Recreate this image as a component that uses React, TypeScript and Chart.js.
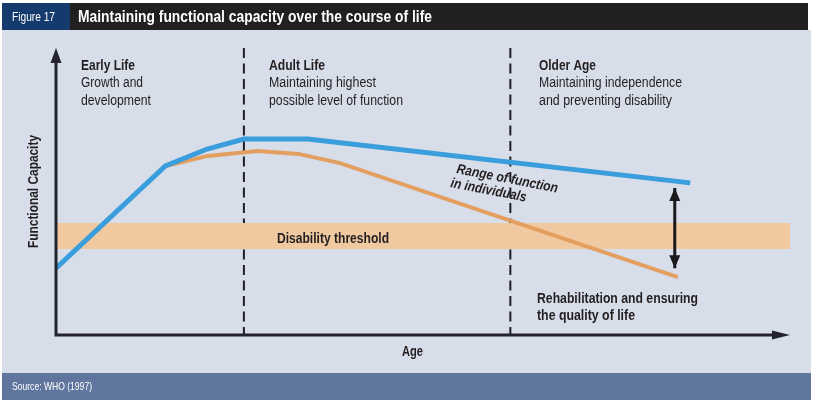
import { useEffect, useRef } from "react";
import { Chart, registerables } from "chart.js";

Chart.register(...registerables);

// ---- data (abstract units: x = age 0..100, y = functional capacity 0..100) ----
const stageBoundaries = [25.6, 61.9];
const stageTitles = ["Early Life", "Adult Life", "Older Age"];
const stageLine1 = ["Growth and", "Maintaining highest", "Maintaining independence"];
const stageLine2 = ["development", "possible level of function", "and preventing disability"];

const upperX = [0, 14.9, 20.6, 25.6, 34.3, 86.4];
const upperY = [23.3, 58.9, 64.8, 68.3, 68.3, 53.0];

const lowerX = [14.9, 20.7, 27.5, 33.0, 38.7, 84.7];
const lowerY = [58.9, 62.4, 64.1, 63.1, 59.9, 20.2];

const thresholdRange = [30, 39];
const arrowX = 84.3;
const arrowY = [51.2, 23.3];

const FONT = '"Liberation Sans", Arial, sans-serif';
const INK = "#231f20";

const pts = (xs: number[], ys: number[]) => xs.map((x, i) => ({ x, y: ys[i] }));

function fitText(
  ctx: CanvasRenderingContext2D,
  text: string,
  x: number,
  y: number,
  font: string,
  width: number,
  color: string,
  angle = 0
) {
  ctx.save();
  ctx.font = font;
  ctx.fillStyle = color;
  ctx.textBaseline = "alphabetic";
  ctx.textAlign = "left";
  const w = ctx.measureText(text).width;
  ctx.translate(x, y);
  if (angle) ctx.rotate(angle);
  ctx.scale(width / w, 1);
  ctx.fillText(text, 0, 0);
  ctx.restore();
}

function tri(ctx: CanvasRenderingContext2D, a: number[], b: number[], c: number[], color: string) {
  ctx.beginPath();
  ctx.moveTo(a[0], a[1]);
  ctx.lineTo(b[0], b[1]);
  ctx.lineTo(c[0], c[1]);
  ctx.closePath();
  ctx.fillStyle = color;
  ctx.fill();
}

const framePlugin = {
  id: "frame",
  beforeDraw(chart: any) {
    const ctx = chart.ctx as CanvasRenderingContext2D;
    ctx.save();
    ctx.fillStyle = "#ffffff";
    ctx.fillRect(0, 0, chart.width, chart.height);
    ctx.fillStyle = "#d8ddea";
    ctx.fillRect(2, 30, 809, 343);
    ctx.fillStyle = "#221f20";
    ctx.fillRect(2, 3, 806, 27);
    ctx.fillStyle = "#153a6d";
    ctx.fillRect(2, 3, 68, 27);
    ctx.fillStyle = "#61769e";
    ctx.fillRect(2, 373, 809, 27);
    ctx.restore();
  },
  afterDraw(chart: any) {
    const ctx = chart.ctx as CanvasRenderingContext2D;
    const xs = chart.scales.x;
    const ys = chart.scales.y;
    const { left, right, top, bottom } = chart.chartArea;
    const axis = "#22232d";

    // axes
    ctx.save();
    ctx.strokeStyle = axis;
    ctx.lineWidth = 3;
    ctx.lineCap = "butt";
    ctx.beginPath();
    ctx.moveTo(left, top + 8);
    ctx.lineTo(left, bottom);
    ctx.lineTo(right - 8, bottom);
    ctx.stroke();
    ctx.restore();
    tri(ctx, [left, top], [left - 5.5, top + 15], [left + 5.5, top + 15], axis);
    tri(ctx, [right, bottom], [right - 18, bottom - 4.5], [right - 18, bottom + 4.5], axis);

    // range arrow heads
    const ax = xs.getPixelForValue(arrowX);
    const aTop = ys.getPixelForValue(arrowY[0]);
    const aBot = ys.getPixelForValue(arrowY[1]);
    tri(ctx, [ax, aTop], [ax - 5.5, aTop + 13], [ax + 5.5, aTop + 13], "#1a1a1d");
    tri(ctx, [ax, aBot], [ax - 5.5, aBot - 13], [ax + 5.5, aBot - 13], "#1a1a1d");

    // header / footer text
    fitText(ctx, "Figure 17", 12, 21, `12.5px ${FONT}`, 43, "#ffffff");
    fitText(ctx, "Maintaining functional capacity over the course of life", 78, 21.5, `bold 16px ${FONT}`, 354, "#ffffff");
    fitText(ctx, "Source: WHO (1997)", 12, 390, `11px ${FONT}`, 80, "#ffffff");

    // stage labels
    const stageX = [81, 269, 539];
    const titleW = [54, 56, 57];
    const l1W = [62, 107, 143];
    const l2W = [70, 134, 133];
    for (let i = 0; i < 3; i++) {
      fitText(ctx, stageTitles[i], stageX[i], 69.5, `bold 14px ${FONT}`, titleW[i], INK);
      fitText(ctx, stageLine1[i], stageX[i], 87, `14px ${FONT}`, l1W[i], INK);
      fitText(ctx, stageLine2[i], stageX[i], 104.5, `14px ${FONT}`, l2W[i], INK);
    }

    fitText(ctx, "Disability threshold", 277, 243, `bold 14px ${FONT}`, 112, INK);
    fitText(ctx, "Age", 402, 356, `bold 14px ${FONT}`, 21, INK);
    fitText(ctx, "Rehabilitation and ensuring", 537, 303, `bold 14px ${FONT}`, 161, INK);
    fitText(ctx, "the quality of life", 537, 320, `bold 14px ${FONT}`, 98, INK);
    fitText(ctx, "Functional Capacity", 38, 248, `bold 14px ${FONT}`, 113, INK, -Math.PI / 2);

    const ang = (11 * Math.PI) / 180;
    fitText(ctx, "Range of function", 456, 173, `italic bold 14px ${FONT}`, 103, INK, ang);
    fitText(ctx, "in individuals", 450, 187, `italic bold 14px ${FONT}`, 77, INK, ang);
  },
};

export default function App() {
  const ref = useRef<HTMLCanvasElement | null>(null);

  useEffect(() => {
    if (!ref.current) return;
    const chart = new Chart(ref.current, {
      type: "line",
      data: {
        datasets: [
          ...stageBoundaries.map((b) => ({
            label: "stage",
            data: [
              { x: b, y: 100 },
              { x: b, y: 0 },
            ],
            borderColor: "#1e1e24",
            borderWidth: 2,
            borderDash: [10, 5.5],
            pointRadius: 0,
            fill: false,
            order: 20,
          })),
          {
            label: "Disability threshold",
            data: [
              { x: 0, y: thresholdRange[1] },
              { x: 100, y: thresholdRange[1] },
            ],
            borderColor: "rgba(0,0,0,0)",
            borderWidth: 0,
            backgroundColor: "#f0c9a1",
            fill: { value: thresholdRange[0] },
            pointRadius: 0,
            order: 10,
          },
          {
            label: "lower",
            data: pts(lowerX, lowerY),
            borderColor: "#e39f5f",
            borderWidth: 4,
            borderJoinStyle: "miter",
            pointRadius: 0,
            fill: false,
            tension: 0,
            order: 3,
          },
          {
            label: "upper",
            data: pts(upperX, upperY),
            borderColor: "#3a9edc",
            borderWidth: 5,
            borderJoinStyle: "miter",
            pointRadius: 0,
            fill: false,
            tension: 0,
            order: 2,
          },
          {
            label: "range",
            data: arrowY.map((y) => ({ x: arrowX, y })),
            borderColor: "#1a1a1d",
            borderWidth: 3,
            pointRadius: 0,
            fill: false,
            order: 1,
          },
        ],
      } as any,
      options: {
        responsive: false,
        maintainAspectRatio: false,
        animation: false,
        layout: { padding: { left: 56, right: 24, top: 48, bottom: 70 } },
        scales: {
          x: { type: "linear", min: 0, max: 100, display: false },
          y: { type: "linear", min: 0, max: 100, display: false },
        },
        plugins: {
          legend: { display: false },
          tooltip: { enabled: false },
        },
        events: [],
      } as any,
      plugins: [framePlugin],
    });
    return () => chart.destroy();
  }, []);

  return (
    <div style={{ position: "absolute", left: 0, top: 0, width: 814, height: 405 }}>
      <canvas ref={ref} width={814} height={405} style={{ display: "block" }} />
    </div>
  );
}
